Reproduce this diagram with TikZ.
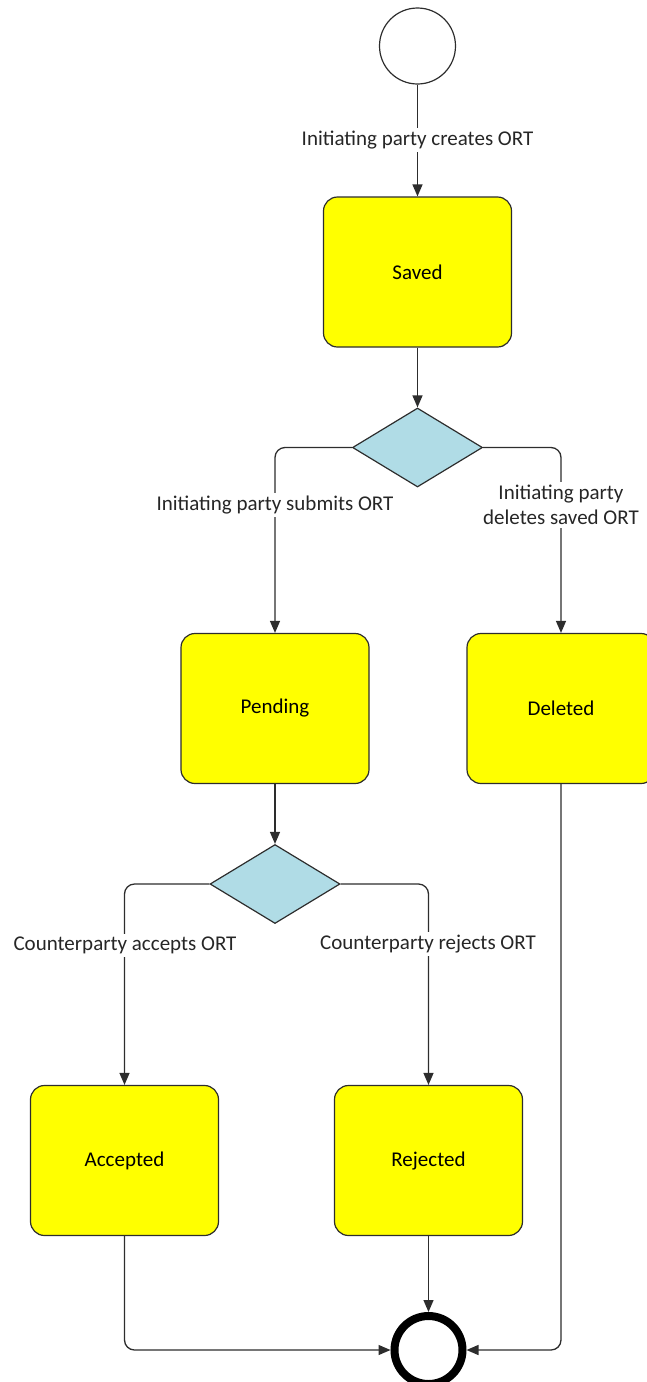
\documentclass[tikz,border=0pt]{standalone}
\usepackage{fontspec}
\setmainfont{Carlito}
\usetikzlibrary{shapes.geometric,arrows.meta}
\definecolor{dblue}{RGB}{176,220,230}
\definecolor{lineg}{RGB}{45,45,45}
\definecolor{yel}{RGB}{255,255,0}
\begin{document}
\begin{tikzpicture}[x=1pt,y=-1pt,
  state/.style={draw=lineg, line width=1.2pt, fill=yel, rounded corners=14pt,
    minimum width=188pt, minimum height=150pt, inner sep=0pt,
    font=\fontsize{21}{25}\selectfont},
  choice/.style={diamond, draw=lineg, line width=1.2pt, fill=dblue,
    minimum width=130pt, minimum height=79pt, inner sep=0pt},
  startc/.style={circle, draw=lineg, line width=1.2pt, fill=white, minimum size=76pt, inner sep=0pt},
  endc/.style={circle, draw=black, line width=8pt, fill=white, minimum size=68pt, inner sep=0pt},
  conn/.style={draw=lineg, line width=1.3pt, rounded corners=10pt,
    -{Triangle[length=12pt,width=10pt]}},
  lbl/.style={fill=white, inner sep=3pt, align=center, text=black!85,
    font=\fontsize{21}{25}\selectfont}]
\useasboundingbox (0,0) rectangle (646,1382);
\node[startc] (start) at (417.5,46) {};
\node[state] (saved) at (417.5,272) {Saved};
\node[choice] (d1) at (417.5,447.5) {};
\node[state] (pending) at (275,708.5) {Pending};
\node[state] (deleted) at (561,708.5) {Deleted};
\node[choice] (d2) at (275,884) {};
\node[state] (accepted) at (124.5,1160.5) {Accepted};
\node[state] (rejected) at (428.5,1160.5) {Rejected};
\node[endc] (end) at (428.5,1350) {};
\draw[conn] (start) -- (saved);
\draw[conn] (saved) -- (d1);
\draw[conn] (d1.west) -| (pending.north);
\draw[conn] (d1.east) -| (deleted.north);
\draw[conn] (pending) -- (d2);
\draw[conn] (d2.west) -| (accepted.north);
\draw[conn] (d2.east) -| (rejected.north);
\draw[conn] (accepted.south) |- (end.west);
\draw[conn] (rejected) -- (end);
\draw[conn] (deleted.south) |- (end.east);
\node[lbl] (l1) at (417.5,140) {Initiating party creates ORT};
\node[lbl] (l2) at (275,505) {Initiating party submits ORT};
\node[lbl] (l3) at (561,505) {Initiating party\\deletes saved ORT};
\node[lbl] (l4) at (125,945) {Counterparty accepts ORT};
\node[lbl] (l5) at (428,944) {Counterparty rejects ORT};
\end{tikzpicture}
\end{document}
